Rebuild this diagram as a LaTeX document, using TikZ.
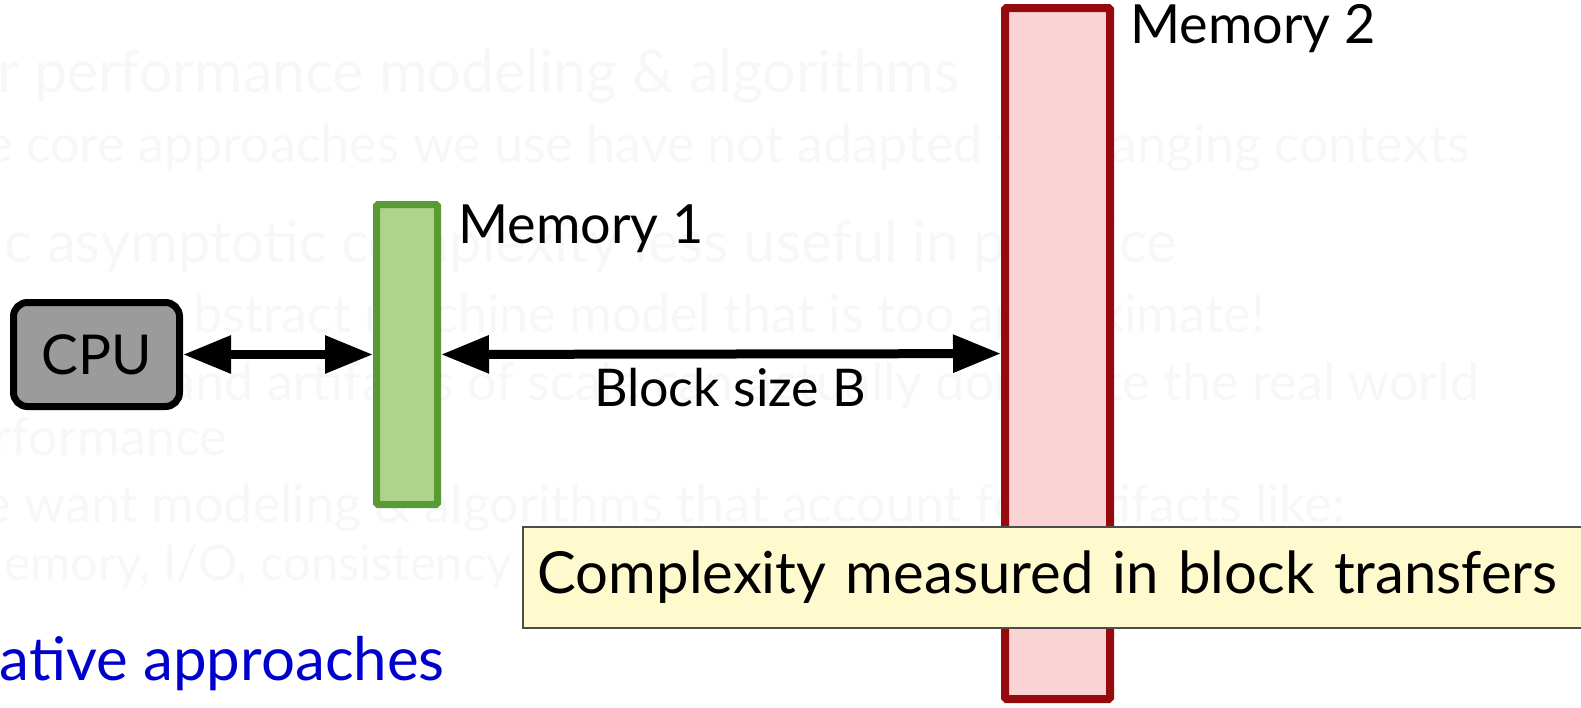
\documentclass[tikz,border=0pt]{standalone}
\usepackage{fontspec}
\setmainfont{Lato}
\usetikzlibrary{arrows.meta,positioning}
\definecolor{cpufill}{HTML}{9B9B9B}
\definecolor{mem1fill}{HTML}{AED48B}
\definecolor{mem1line}{HTML}{5A9A34}
\definecolor{mem2fill}{HTML}{FAD4D4}
\definecolor{mem2line}{HTML}{960A0E}
\definecolor{notefill}{HTML}{FFFACD}
\definecolor{noteline}{HTML}{4D4D4D}
\definecolor{ghostgray}{HTML}{F7F7F7}
\definecolor{altblue}{HTML}{0000CC}
\tikzstyle{cpubox} = [rectangle, draw=black, line width=7pt, fill=cpufill, rounded corners=14pt, minimum width=166pt, minimum height=104pt, inner sep=0pt, font=\fontsize{55}{66}\selectfont]
\tikzstyle{membox} = [rectangle, line width=7pt, rounded corners=1.5pt, inner sep=0pt]
\tikzstyle{lbl} = [inner sep=0pt, font=\fontsize{54}{64}\selectfont]
\tikzstyle{xfer} = [<->, line width=9pt, >={Triangle[length=48pt,width=36pt]}]
\tikzstyle{ghost} = [inner sep=0pt, anchor=base east, text=ghostgray, font=\fontsize{52}{62}\selectfont]
\tikzstyle{note} = [rectangle, draw=noteline, line width=1.5pt, fill=notefill, text width=1100pt, align=left, inner xsep=15pt, minimum height=101pt, font=\fontsize{58}{70}\selectfont]

\begin{document}
\begin{tikzpicture}[x=1pt, y=-1pt]
\clip (0,0) rectangle (1581,707);

% faded slide text behind the drawing
\node[ghost, font=\fontsize{59}{70}\selectfont] (g1) at (960,92) {r performance modeling \& algorithms};
\node[ghost] (g2) at (1470,162) {e core approaches we use have not adapted to changing contexts};
\node[ghost, font=\fontsize{58}{70}\selectfont] (g3) at (1177,262) {c asymptotic complexity less useful in practice};
\node[ghost] (g4) at (1265,332) {bstract machine model that is too approximate!};
\node[ghost] (g5) at (1479,400) {and artifacts of scale can actually dominate the real world};
\node[ghost] (g6) at (227,455) {rformance};
\node[ghost] (g7) at (1345,522) {e want modeling \& algorithms that account for artifacts like:};
\node[ghost, font=\fontsize{49}{59}\selectfont] (g8) at (512,580) {emory, I/O, consistency};
\node[ghost, text=altblue, font=\fontsize{60}{72}\selectfont] (alt) at (445,680) {ative approaches};

% CPU and the two memories
\node[cpubox] (cpu) at (96.5,354.5) {CPU};
\node[membox, draw=mem1line, fill=mem1fill, minimum width=61pt, minimum height=300pt] (mem1) at (407,354.5) {};
\node[membox, draw=mem2line, fill=mem2fill, line width=8pt, minimum width=105pt, minimum height=691pt] (mem2) at (1057.5,353.5) {};

\node[lbl, anchor=base west] (mem1lbl) at ([xshift=17pt,yshift=-42pt]mem1.north east) {Memory 1};
\node[lbl, anchor=base west] (mem2lbl) at ([xshift=16pt,yshift=-39pt]mem2.north east) {Memory 2};

% transfers
\draw[xfer] (cpu) -- (mem1);
\draw[xfer] (mem1) -- (mem2);
\node[lbl, anchor=base, font=\fontsize{52}{62}\selectfont] (blocklbl) at (730,406) {Block size B};

% callout
\node[note, anchor=north west] (xfernote) at (522,526) {Complexity measured in block transfers};

\end{tikzpicture}
\end{document}
